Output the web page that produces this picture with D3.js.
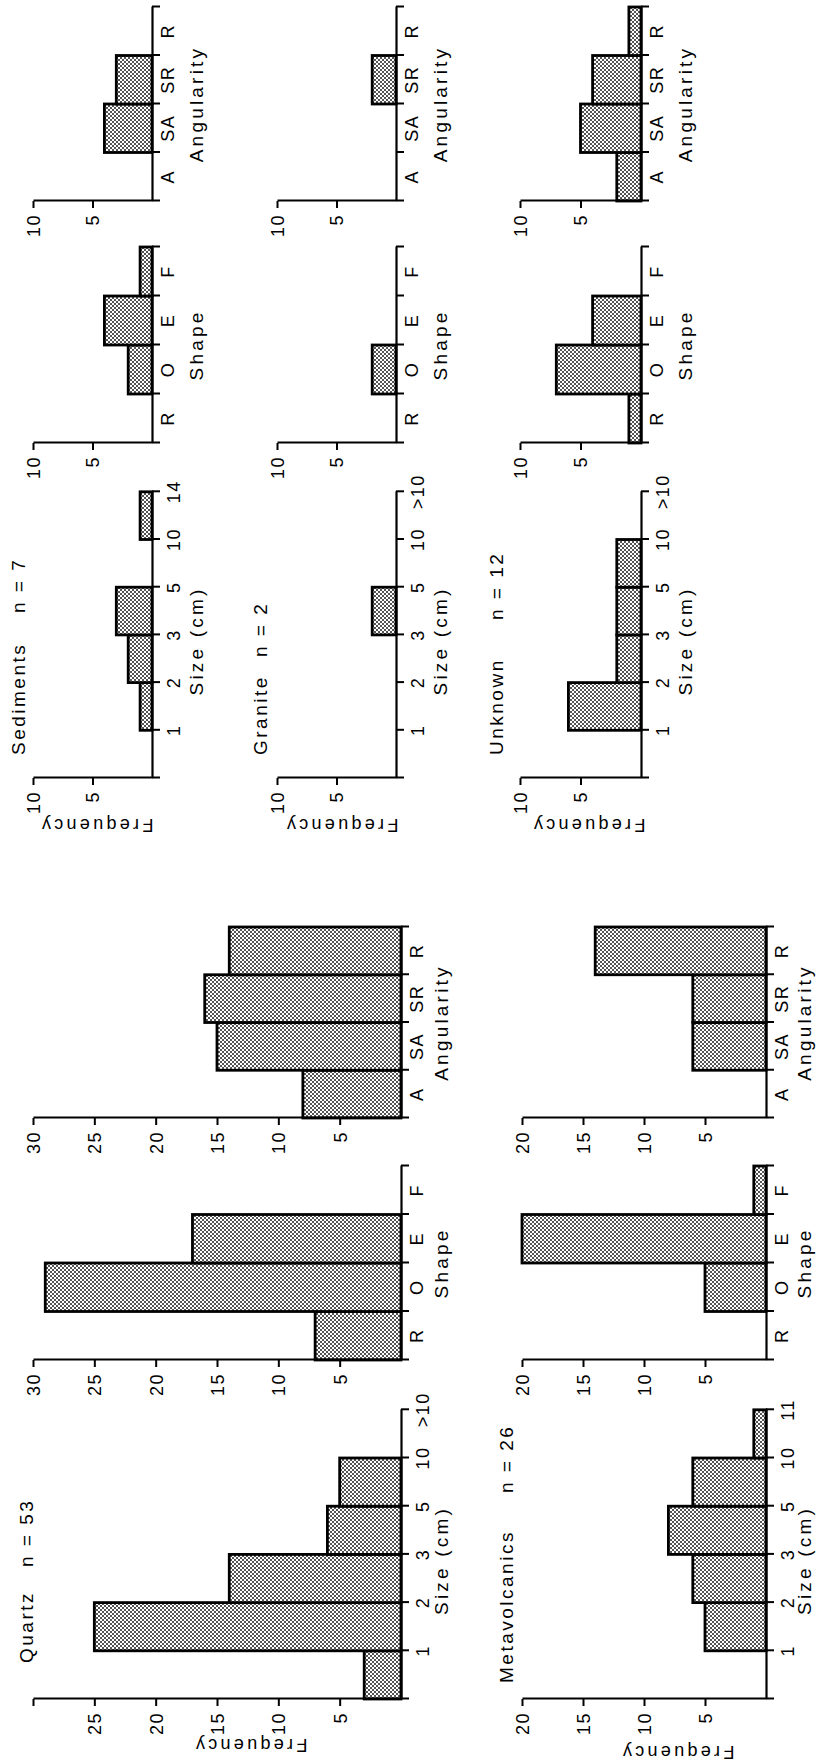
<!DOCTYPE html>
<html><head><meta charset="utf-8">
<script src="https://cdn.jsdelivr.net/npm/d3@7"></script>
<style>
html,body{margin:0;padding:0;background:#fff;}
svg{display:block;background:#fff;}
text{font-family:"Liberation Sans",Arial,Helvetica,sans-serif;fill:#000;}
</style>
</head><body>
<svg id="c" width="818" height="1763"></svg>
<script>
// ---------- DATA ----------
const rockTypes = ["Quartz", "Metavolcanics", "Sediments", "Granite", "Unknown"];
const sampleCounts = [53, 26, 7, 2, 12];

const shapeCategories = ["R", "O", "E", "F"];
const angularityCategories = ["A", "SA", "SR", "R"];

// size bins: <1, 1-2, 2-3, 3-5, 5-10, >10 (labels sit on bin edges)
const sizeLabelsQuartz = ["1", "2", "3", "5", "10", ">10"];
const sizeLabelsMetavolcanics = ["1", "2", "3", "5", "10", "11"];
const sizeLabelsSediments = ["1", "2", "3", "5", "10", "14"];
const sizeLabelsGranite = ["1", "2", "3", "5", "10", ">10"];
const sizeLabelsUnknown = ["1", "2", "3", "5", "10", ">10"];

const sizeQuartz = [3, 25, 14, 6, 5, 0];
const sizeMetavolcanics = [0, 5, 6, 8, 6, 1];
const sizeSediments = [0, 1, 2, 3, 0, 1];
const sizeGranite = [0, 0, 0, 2, 0, 0];
const sizeUnknown = [0, 6, 2, 2, 2, 0];

const shapeQuartz = [7, 29, 17, 0];
const shapeMetavolcanics = [0, 5, 20, 1];
const shapeSediments = [0, 2, 4, 1];
const shapeGranite = [0, 2, 0, 0];
const shapeUnknown = [1, 7, 4, 0];

const angularityQuartz = [8, 15, 16, 14];
const angularityMetavolcanics = [0, 6, 6, 14];
const angularitySediments = [0, 4, 3, 0];
const angularityGranite = [0, 0, 2, 0];
const angularityUnknown = [2, 5, 4, 1];

const freqTicksQuartz = [5, 10, 15, 20, 25, 30];
const freqTicksMetavolcanics = [5, 10, 15, 20];
const freqTicksSmall = [5, 10];

const axisTitles = ["Size (cm)", "Shape", "Angularity"];
const freqLabel = "Frequency";

// ---------- LAYOUT (landscape coordinates, page is rotated) ----------
const W = 1763;
const svg = d3.select("#c");
const defs = svg.append("defs");
const pat = defs.append("pattern").attr("id", "stip")
  .attr("patternUnits", "userSpaceOnUse").attr("width", 4).attr("height", 4);
pat.append("rect").attr("width", 4).attr("height", 4).attr("fill", "#fff");
pat.append("circle").attr("cx", 1).attr("cy", 1).attr("r", 1.0).attr("fill", "#1a1a1a");
pat.append("circle").attr("cx", 3).attr("cy", 3).attr("r", 1.0).attr("fill", "#1a1a1a");

const g = svg.append("g").attr("transform", `translate(0,${W}) rotate(-90)`);

const leftCols = { size: [64, 48.2], shape: [403, 48.5], ang: [645, 47.75] };
const rightCols = { size: [985, 47.7], shape: [1320, 49], ang: [1562, 48.5] };

const rows = [
  { name: rockTypes[0], n: sampleCounts[0], cols: leftCols, y0: 401, yTop: 33, vmax: 30,
    ticks: freqTicksQuartz, sizeHide30: true, titleOff: 47,
    size: sizeQuartz, sizeLabels: sizeLabelsQuartz, shape: shapeQuartz, ang: angularityQuartz,
    title: [100, 196, 33], freq: [24, 250] },
  { name: rockTypes[1], n: sampleCounts[1], cols: leftCols, y0: 766, yTop: 522, vmax: 20,
    ticks: freqTicksMetavolcanics, titleOff: 45,
    size: sizeMetavolcanics, sizeLabels: sizeLabelsMetavolcanics, shape: shapeMetavolcanics, ang: angularityMetavolcanics,
    title: [80, 270, 513], freq: [17, 677] },
  { name: rockTypes[2], n: sampleCounts[2], cols: rightCols, y0: 152, yTop: 33, vmax: 10,
    ticks: freqTicksSmall, titleOff: 51,
    size: sizeSediments, sizeLabels: sizeLabelsSediments, shape: shapeSediments, ang: angularitySediments,
    title: [1008, 1150, 25], freq: [944, 96] },
  { name: rockTypes[3], n: sampleCounts[3], cols: rightCols, y0: 396, yTop: 277, vmax: 10,
    ticks: freqTicksSmall, titleOff: 51,
    size: sizeGranite, sizeLabels: sizeLabelsGranite, shape: shapeGranite, ang: angularityGranite,
    title: [1008, 1106, 267], freq: [944, 341] },
  { name: rockTypes[4], n: sampleCounts[4], cols: rightCols, y0: 641, yTop: 520, vmax: 10,
    ticks: freqTicksSmall, titleOff: 51,
    size: sizeUnknown, sizeLabels: sizeLabelsUnknown, shape: shapeUnknown, ang: angularityUnknown,
    title: [1008, 1143, 503], freq: [944, 588] }
];

function panel(row, kind, values, labels, edgeLabels, title, hideTop) {
  const [x0, bw] = row.cols[kind];
  const nb = values.length;
  const x = d3.scaleLinear().domain([0, nb]).range([x0, x0 + nb * bw]);
  const y = d3.scaleLinear().domain([0, row.vmax]).range([row.y0, row.yTop]);
  const pg = g.append("g");

  // bars
  pg.selectAll("rect.bar")
    .data(values.map((v, i) => ({ v, i })).filter(d => d.v > 0))
    .join("rect").attr("class", "bar")
    .attr("x", d => x(d.i)).attr("width", d => x(d.i + 1) - x(d.i))
    .attr("y", d => y(d.v)).attr("height", d => y(0) - y(d.v))
    .attr("fill", "url(#stip)").attr("stroke", "#000").attr("stroke-width", 2.8)
    .attr("stroke-linejoin", "miter");

  // value axis
  const ay = d3.axisLeft(y).tickValues(row.ticks).tickSize(7).tickSizeOuter(0).tickPadding(6)
    .tickFormat(d => (hideTop && d === row.vmax) ? "" : String(d));
  const ag = pg.append("g").attr("transform", `translate(${x(0)},0)`).call(ay);
  ag.attr("font-family", null).attr("font-size", null);
  ag.select(".domain").attr("stroke", "#000").attr("stroke-width", 2.2);
  ag.selectAll(".tick line").attr("stroke", "#000").attr("stroke-width", 2);
  ag.selectAll(".tick text").style("font-size", "18px").style("letter-spacing", "1.5px")
    .attr("dy", "0.36em").attr("fill", "#000");

  // category axis
  const ax = d3.axisBottom(x).tickValues(d3.range(0, nb + 1)).tickSize(8).tickSizeOuter(0).tickFormat("");
  const xg = pg.append("g").attr("transform", `translate(0,${y(0)})`).call(ax);
  xg.attr("font-family", null).attr("font-size", null);
  xg.select(".domain").attr("stroke", "#000").attr("stroke-width", 2.2);
  xg.selectAll(".tick line").attr("stroke", "#000").attr("stroke-width", 2);

  // category labels
  pg.selectAll("text.cat").data(labels).join("text").attr("class", "cat")
    .attr("x", (d, i) => edgeLabels ? x(i + 1) : x(i + 0.5))
    .attr("y", y(0) + (edgeLabels ? 28 : 22))
    .attr("text-anchor", "middle")
    .style("font-size", "18px").style("letter-spacing", "1.5px")
    .text(d => d);

  // axis title
  pg.append("text").attr("x", (x(0) + x(nb)) / 2 + (edgeLabels ? -6 : 0))
    .attr("y", y(0) + row.titleOff).attr("text-anchor", "middle")
    .style("font-size", "19px").style("letter-spacing", "3.2px")
    .text(title);
  return pg;
}

rows.forEach(row => {
  panel(row, "size", row.size, row.sizeLabels, true, axisTitles[0], !!row.sizeHide30);
  panel(row, "shape", row.shape, shapeCategories, false, axisTitles[1], false);
  panel(row, "ang", row.ang, angularityCategories, false, axisTitles[2], false);

  // chart title
  g.append("text").attr("x", row.title[0]).attr("y", row.title[2])
    .style("font-size", "19px").style("letter-spacing", "2.5px").text(row.name);
  g.append("text").attr("x", row.title[1]).attr("y", row.title[2])
    .style("font-size", "19px").style("letter-spacing", "2.5px").text("n = " + row.n);

  // Frequency label
  g.append("text").attr("transform", `translate(${row.freq[0]},${row.freq[1]}) rotate(-90)`)
    .attr("text-anchor", "middle")
    .style("font-size", "18px").style("letter-spacing", "3.3px").text(freqLabel);
});
</script>
</body></html>
